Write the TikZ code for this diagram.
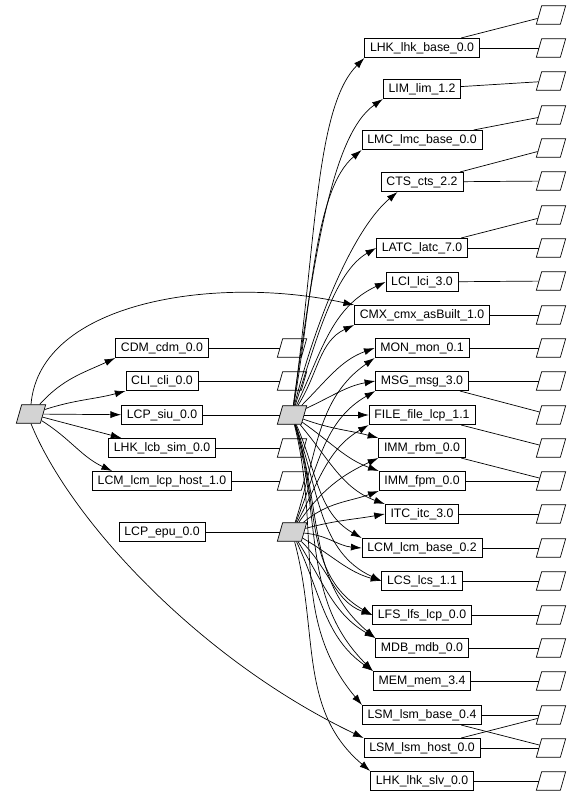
\documentclass[tikz,border=0pt]{standalone}
\usepackage{fontspec}
\setmainfont{Liberation Sans}
\usetikzlibrary{shapes.geometric, arrows.meta}
\definecolor{hubgray}{HTML}{D3D3D3}

\begin{document}
\begin{tikzpicture}[
    x=0.3mm, y=-0.3mm,
    package/.style={
      draw, rectangle, minimum height=5.8mm, inner xsep=1.6mm, inner ysep=0pt,
      font=\fontsize{10.5pt}{12pt}\selectfont
    },
    artifact/.style={
      draw, trapezium, trapezium left angle=74, trapezium right angle=106,
      minimum width=6.9mm, minimum height=5.6mm, inner sep=1pt
    },
    hub/.style={
      artifact, fill=hubgray
    },
    >={Latex[length=3.2mm, width=2.1mm]},
    line width=0.6pt,
  ]
    \useasboundingbox (0,0) rectangle (580,797);

    % source
    \node [hub] (src) at (31,414) {};

    % first column
    \node [package] (cdm) at (162,348) {CDM\_cdm\_0.0};
    \node [package] (cli) at (162,381) {CLI\_cli\_0.0};
    \node [package] (siubox) at (162,415) {LCP\_siu\_0.0};
    \node [package] (lcbsim) at (162,448) {LHK\_lcb\_sim\_0.0};
    \node [package] (lcmhost) at (162,481) {LCM\_lcm\_lcp\_host\_1.0};
    \node [package] (epubox) at (162,532) {LCP\_epu\_0.0};

    % middle artifacts
    \node [artifact] (cdmout) at (292,348) {};
    \node [artifact] (cliout) at (292,381) {};
    \node [hub] (siu) at (292,415) {};
    \node [artifact] (lcbout) at (292,448) {};
    \node [artifact] (hostout) at (292,481) {};
    \node [hub] (epu) at (292,532) {};

    % second column
    \node [package] (lhkbase) at (422,48) {LHK\_lhk\_base\_0.0};
    \node [package] (lim) at (422,89) {LIM\_lim\_1.2};
    \node [package] (lmc) at (422,140) {LMC\_lmc\_base\_0.0};
    \node [package] (cts) at (422,182) {CTS\_cts\_2.2};
    \node [package] (latc) at (422,248) {LATC\_latc\_7.0};
    \node [package] (lci) at (422,282) {LCI\_lci\_3.0};
    \node [package] (cmx) at (422,315) {CMX\_cmx\_asBuilt\_1.0};
    \node [package] (mon) at (422,348) {MON\_mon\_0.1};
    \node [package] (msg) at (422,381) {MSG\_msg\_3.0};
    \node [package] (file) at (422,415) {FILE\_file\_lcp\_1.1};
    \node [package] (rbm) at (422,448) {IMM\_rbm\_0.0};
    \node [package] (fpm) at (422,481) {IMM\_fpm\_0.0};
    \node [package] (itc) at (422,514) {ITC\_itc\_3.0};
    \node [package] (lcmbase) at (422,548) {LCM\_lcm\_base\_0.2};
    \node [package] (lcs) at (422,581) {LCS\_lcs\_1.1};
    \node [package] (lfs) at (422,615) {LFS\_lfs\_lcp\_0.0};
    \node [package] (mdb) at (422,648) {MDB\_mdb\_0.0};
    \node [package] (mem) at (422,681) {MEM\_mem\_3.4};
    \node [package] (lsmbase) at (422,715) {LSM\_lsm\_base\_0.4};
    \node [package] (lsmhost) at (422,748) {LSM\_lsm\_host\_0.0};
    \node [package] (lhkslv) at (422,781) {LHK\_lhk\_slv\_0.0};

    % right artifacts
    \node [artifact] (out1) at (551,15) {};
    \node [artifact] (out2) at (551,48) {};
    \node [artifact] (out3) at (551,81) {};
    \node [artifact] (out4) at (551,115) {};
    \node [artifact] (out5) at (551,148) {};
    \node [artifact] (out6) at (551,181) {};
    \node [artifact] (out7) at (551,215) {};
    \node [artifact] (out8) at (551,248) {};
    \node [artifact] (out9) at (551,281) {};
    \node [artifact] (out10) at (551,315) {};
    \node [artifact] (out11) at (551,348) {};
    \node [artifact] (out12) at (551,381) {};
    \node [artifact] (out13) at (551,415) {};
    \node [artifact] (out14) at (551,448) {};
    \node [artifact] (out15) at (551,481) {};
    \node [artifact] (out16) at (551,514) {};
    \node [artifact] (out17) at (551,548) {};
    \node [artifact] (out18) at (551,581) {};
    \node [artifact] (out19) at (551,615) {};
    \node [artifact] (out20) at (551,648) {};
    \node [artifact] (out21) at (551,681) {};
    \node [artifact] (out22) at (551,715) {};
    \node [artifact] (out23) at (551,748) {};
    \node [artifact] (out24) at (551,781) {};

    % source dependencies
    \draw [->] (src) to[out=48, in=205] (cdm.south west);
    \draw [->] (src) to[out=18, in=195] (cli.south west);
    \draw [->] (src) -- (siubox);
    \draw [->] (src) to[out=-15, in=165] ([xshift=4mm]lcbsim.north west);
    \draw [->] (src) to[out=-32, in=155] ([xshift=6mm]lcmhost.north west);
    \draw [->] (src.north) .. controls (40,300) and (220,275) .. (cmx.north west);
    \draw [->] (src.south) .. controls (70,520) and (200,660) .. (lsmhost.north west);

    % first column to artifacts
    \draw (cdm) -- (cdmout);
    \draw (cli) -- (cliout);
    \draw (siubox) -- (siu);
    \draw (lcbsim) -- (lcbout);
    \draw (lcmhost) -- (hostout);
    \draw (epubox) -- (epu);

    % siu dependencies
    \draw [->] (siu) to[out=82, in=225, out looseness=1.2, in looseness=.5] (lhkbase.south west);
    \draw [->] (siu) to[out=82, in=215, out looseness=1.2, in looseness=.5] (lim.south west);
    \draw [->] (siu) to[out=80, in=220, in looseness=.6] (lmc.south west);
    \draw [->] (siu) to[out=76, in=220, in looseness=.6] ([xshift=5mm]cts.south west);
    \draw [->] (siu) to[out=72, in=210, in looseness=.7] (latc.west);
    \draw [->] (siu) to[out=65, in=205] (lci.west);
    \draw [->] (siu) to[out=58, in=205] (cmx.south west);
    \draw [->] (siu) to[out=45, in=200] (mon.west);
    \draw [->] (siu) to[out=25, in=190] (msg.west);
    \draw [->] (siu) -- (file);
    \draw [->] (siu) to[out=-20, in=165] (rbm.north west);
    \draw [->] (siu) to[out=-35, in=160] (fpm.north west);
    \draw [->] (siu) to[out=-50, in=160] (itc.north west);
    \draw [->] (siu) to[out=-66, in=150] (lcmbase.north west);
    \draw [->] (siu) to[out=-70, in=155] (lcs.west);
    \draw [->] (siu) to[out=-72, in=150] (lfs.west);
    \draw [->] (siu) to[out=-72, in=140] (mdb.north west);
    \draw [->] (siu) to[out=-74, in=135] (mem.north west);
    \draw [->] (siu) to[out=-76, in=130] (lsmbase.north west);

    % epu dependencies
    \draw [->] (epu) to[out=72, in=215] (mon.south west);
    \draw [->] (epu) to[out=68, in=210] (msg.south west);
    \draw [->] (epu) to[out=62, in=210] (file.south west);
    \draw [->] (epu) to[out=55, in=205] (rbm.south west);
    \draw [->] (epu) to[out=40, in=200] (fpm.south west);
    \draw [->] (epu) to[out=15, in=190] (itc.west);
    \draw [->] (epu) to[out=-5, in=175] (lcmbase.west);
    \draw [->] (epu) to[out=-30, in=165] (lcs.west);
    \draw [->] (epu) to[out=-45, in=160] (lfs.west);
    \draw [->] (epu) to[out=-58, in=150] (mdb.north west);
    \draw [->] (epu) to[out=-65, in=145] (mem.north west);
    \draw [->] (epu) to[out=-75, in=140] (lhkslv.north west);

    % second column to artifacts
    \draw (lhkbase) -- (out1);
    \draw (lhkbase) -- (out2);
    \draw (lim) -- (out3);
    \draw (lmc) -- (out4);
    \draw (cts) -- (out5);
    \draw (cts) -- (out6);
    \draw (latc) -- (out7);
    \draw (latc) -- (out8);
    \draw (lci) -- (out9);
    \draw (cmx) -- (out10);
    \draw (mon) -- (out11);
    \draw (msg) -- (out12);
    \draw (msg) -- (out13);
    \draw (file) -- (out14);
    \draw (rbm) -- (out15);
    \draw (fpm) -- (out15);
    \draw (itc) -- (out16);
    \draw (lcmbase) -- (out17);
    \draw (lcs) -- (out18);
    \draw (lfs) -- (out19);
    \draw (mdb) -- (out20);
    \draw (mem) -- (out21);
    \draw (lsmbase) -- (out22);
    \draw (lsmbase) -- (out23);
    \draw (lsmhost) -- (out22);
    \draw (lsmhost) -- (out23);
    \draw (lhkslv) -- (out24);
  \end{tikzpicture}
\end{document}
